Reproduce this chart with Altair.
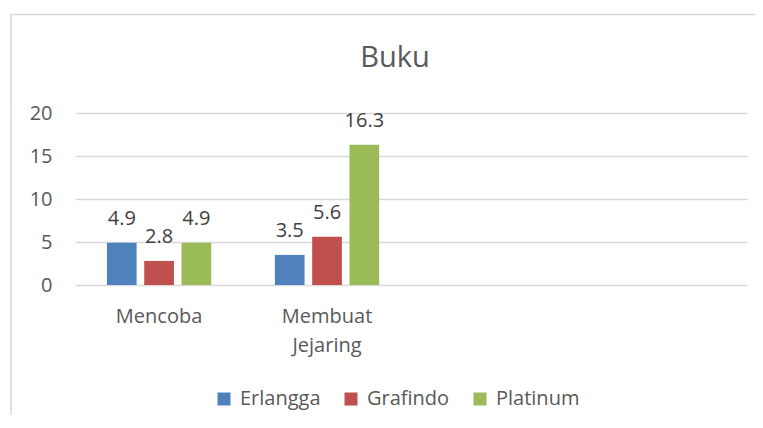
import altair as alt
import pandas as pd

categories = ["Mencoba", "Mencoba", "Mencoba",
              "Membuat Jejaring", "Membuat Jejaring", "Membuat Jejaring"]
series = ["Erlangga", "Grafindo", "Platinum",
          "Erlangga", "Grafindo", "Platinum"]
values = [4.9, 2.8, 4.9, 3.5, 5.6, 16.3]

category_slots = ["Mencoba", "Membuat Jejaring", " ", "  "]
series_names = ["Erlangga", "Grafindo", "Platinum"]
series_colors = ["#4F81BD", "#C0504D", "#9BBB59"]
y_ticks = [0, 5, 10, 15, 20]

df = pd.DataFrame({"Kategori": categories, "Buku": series, "Nilai": values})

FONT = "Open Sans"
GRAY = "#595959"

x_scale = alt.Scale(domain=category_slots, paddingInner=0.379, paddingOuter=0.19)
x_enc = alt.X("Kategori:N", scale=x_scale,
              axis=alt.Axis(title=None, labelAngle=0, domain=False, ticks=False,
                            labelFontSize=20, labelFont=FONT, labelColor=GRAY,
                            labelPadding=21, labelBaseline="top", labelLineHeight=29,
                            labelExpr="split(datum.label, ' ')"))
xo_enc = alt.XOffset("Buku:N", scale=alt.Scale(domain=series_names, paddingInner=0.204, paddingOuter=0))
y_enc = alt.Y("Nilai:Q",
              scale=alt.Scale(domain=[0, 20], nice=False),
              axis=alt.Axis(title=None, values=y_ticks, domain=False, ticks=False,
                            grid=True, gridColor="#D9D9D9", gridWidth=1.5,
                            labelFontSize=20, labelFont=FONT, labelColor=GRAY,
                            labelPadding=23))

bars = alt.Chart(df).mark_bar().encode(
    x=x_enc,
    xOffset=xo_enc,
    y=y_enc,
    color=alt.Color("Buku:N",
                    scale=alt.Scale(domain=series_names, range=series_colors),
                    legend=alt.Legend(title=None, orient="none", legendX=139, legendY=276,
                                      direction="horizontal", symbolType="square",
                                      symbolSize=169, symbolStrokeWidth=0,
                                      labelFontSize=20, labelFont=FONT, labelColor=GRAY,
                                      labelOffset=6, columnPadding=20, padding=0)),
)

labels = alt.Chart(df).mark_text(
    baseline="alphabetic", dy=-18, fontSize=20, font=FONT, color="#404040"
).encode(
    x=alt.X("Kategori:N", scale=x_scale),
    xOffset=xo_enc,
    y=alt.Y("Nilai:Q"),
    text=alt.Text("Nilai:Q", format=".1f"),
)

border = alt.Chart(alt.Data(values=[{}])).mark_rect(
    fill="white", fillOpacity=0, stroke="#D9D9D9", strokeWidth=1.5, clip=False
).encode(
    x=alt.value(-64), x2=alt.value(900), y=alt.value(-98.5), y2=alt.value(600)
)

chart = alt.layer(border, bars, labels).properties(
    width=672, height=172,
    title=alt.TitleParams("Buku", fontSize=29, font=FONT, color=GRAY,
                          fontWeight="normal", anchor="middle", dx=-16,
                          baseline="alphabetic", dy=86),
    autosize=alt.AutoSizeParams(type="none"),
    padding={"left": 67, "top": 105, "right": 8, "bottom": 130},
).configure_view(stroke=None)

chart.save("out.html", embed_options={"renderer": "svg", "actions": False})
